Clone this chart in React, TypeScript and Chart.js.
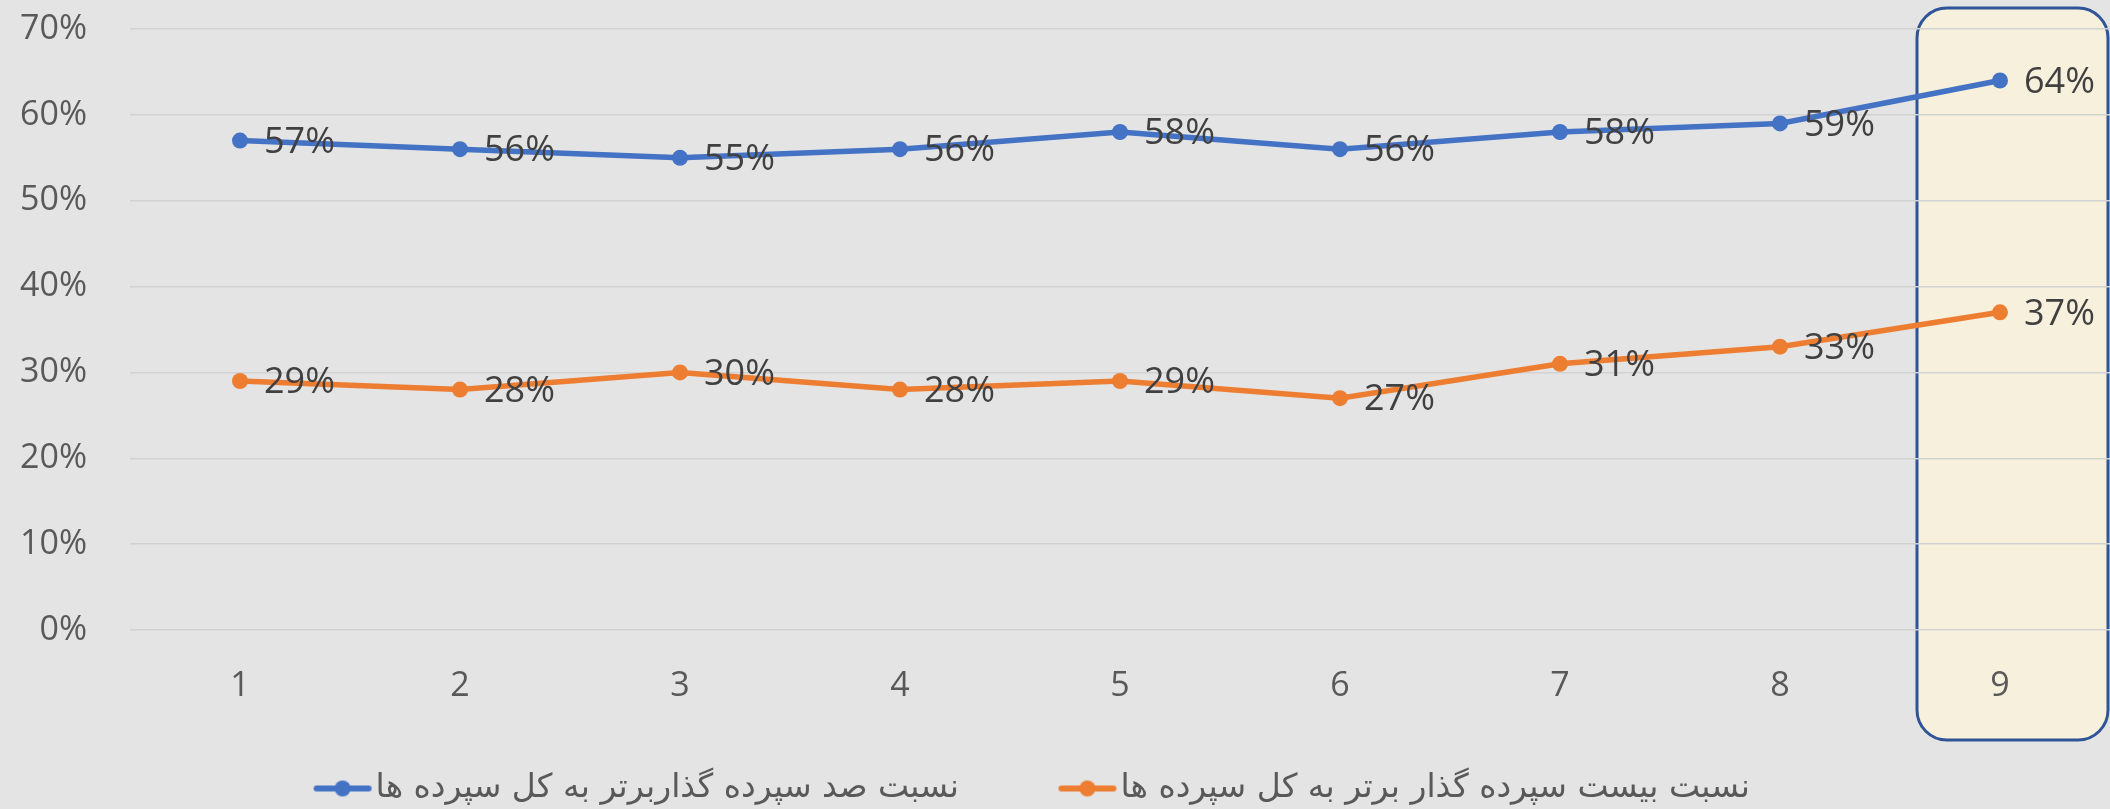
import React, { useEffect, useRef } from "react";
import { Chart, registerables } from "chart.js";

Chart.register(...registerables);

// ---- data ----
const categories: string[] = ["1", "2", "3", "4", "5", "6", "7", "8", "9"];
const top100Share: number[] = [57, 56, 55, 56, 58, 56, 58, 59, 64];
const top20Share: number[] = [29, 28, 30, 28, 29, 27, 31, 33, 37];
const seriesNames: string[] = [
  "نسبت صد سپرده گذاربرتر به کل سپرده ها",
  "نسبت بیست سپرده گذار برتر به کل سپرده ها",
];
const seriesColors: string[] = ["#4472C4", "#ED7D31"];
const yMin = 0;
const yMax = 70;
const yStep = 10;
const highlightIndex = 8;

const W = 2110;
const H = 809;
const LEGEND_FONT = 33;
const LEGEND_BOX = 80;

// legend marker: wide transparent image, line+dot drawn at its right end
function makeMarker(color: string): HTMLCanvasElement {
  const c = document.createElement("canvas");
  c.width = LEGEND_BOX + LEGEND_FONT - 6;
  c.height = 18;
  const g = c.getContext("2d")!;
  const x1 = c.width - 4;
  const x0 = x1 - 52;
  g.strokeStyle = color;
  g.lineWidth = 6;
  g.lineCap = "round";
  g.beginPath();
  g.moveTo(x0, 9);
  g.lineTo(x1, 9);
  g.stroke();
  g.fillStyle = color;
  g.beginPath();
  g.arc((x0 + x1) / 2, 9, 8, 0, Math.PI * 2);
  g.fill();
  return c;
}

function roundRect(ctx: CanvasRenderingContext2D, x: number, y: number, w: number, h: number, r: number) {
  ctx.beginPath();
  ctx.moveTo(x + r, y);
  ctx.lineTo(x + w - r, y);
  ctx.arcTo(x + w, y, x + w, y + r, r);
  ctx.lineTo(x + w, y + h - r);
  ctx.arcTo(x + w, y + h, x + w - r, y + h, r);
  ctx.lineTo(x + r, y + h);
  ctx.arcTo(x, y + h, x, y + h - r, r);
  ctx.lineTo(x, y + r);
  ctx.arcTo(x, y, x + r, y, r);
  ctx.closePath();
}

const layoutPlugin = {
  id: "layoutTweaks",
  afterLayout(chart: any) {
    if (chart.legend) {
      chart.legend.left -= 81;
    }
    const area = chart.chartArea;
    const xs = chart.scales.x;
    if (area && xs && area.right < chart.width) {
      area.right = chart.width;
      area.width = area.right - area.left;
      xs.right = chart.width;
      xs.width = xs.right - xs.left;
      xs.configure();
    }
  },
};

const backgroundPlugin = {
  id: "bgAndHighlight",
  beforeDraw(chart: any) {
    const ctx = chart.ctx as CanvasRenderingContext2D;
    ctx.save();
    ctx.fillStyle = "#E4E4E4";
    ctx.fillRect(0, 0, chart.width, chart.height);
    const xs = chart.scales.x;
    const cx = xs.getPixelForValue(highlightIndex);
    const left = cx - 83;
    const right = chart.width - 2;
    const top = 8;
    const bottom = 740;
    roundRect(ctx, left, top, right - left, bottom - top, 30);
    ctx.fillStyle = "#F7F0DC";
    ctx.fill();
    ctx.lineWidth = 3;
    ctx.strokeStyle = "#2F5597";
    ctx.stroke();
    ctx.restore();
  },
};

const dataLabelPlugin = {
  id: "dataLabels",
  afterDatasetsDraw(chart: any) {
    const ctx = chart.ctx as CanvasRenderingContext2D;
    ctx.save();
    ctx.font = "36px 'Open Sans'";
    ctx.fillStyle = "#404040";
    ctx.textAlign = "left";
    ctx.textBaseline = "middle";
    chart.data.datasets.forEach((ds: any, i: number) => {
      const meta = chart.getDatasetMeta(i);
      meta.data.forEach((pt: any, j: number) => {
        ctx.fillText(`${ds.data[j]}%`, pt.x + 24, pt.y + 2);
      });
    });
    ctx.restore();
  },
};

export default function App() {
  const canvasRef = useRef<HTMLCanvasElement | null>(null);

  useEffect(() => {
    document.body.style.margin = "0";
    document.body.style.overflow = "hidden";
    const canvas = canvasRef.current!;
    const markers = seriesColors.map((c) => makeMarker(c));

    const chart = new Chart(canvas, {
      type: "line",
      data: {
        labels: categories,
        datasets: seriesNames.map((name, i) => ({
          label: name,
          data: i === 0 ? top100Share : top20Share,
          borderColor: seriesColors[i],
          backgroundColor: seriesColors[i],
          borderWidth: 5.5,
          pointRadius: 8,
          pointBorderWidth: 0,
          pointBackgroundColor: seriesColors[i],
          tension: 0,
        })),
      },
      options: {
        responsive: false,
        animation: false,
        devicePixelRatio: 1,
        layout: { padding: { top: 29, right: 0, left: 0, bottom: -6 } },
        plugins: {
          tooltip: { enabled: false },
          legend: {
            position: "bottom",
            labels: {
              usePointStyle: true,
              pointStyleWidth: LEGEND_BOX,
              padding: 65,
              color: "#595959",
              font: { family: "'DejaVu Sans'", size: LEGEND_FONT },
              generateLabels: (ch: any) =>
                ch.data.datasets.map((ds: any, i: number) => ({
                  text: ds.label,
                  fillStyle: seriesColors[i],
                  strokeStyle: seriesColors[i],
                  lineWidth: 0,
                  pointStyle: markers[i],
                  hidden: false,
                  datasetIndex: i,
                  fontColor: "#595959",
                })),
            },
          },
        },
        scales: {
          x: {
            offset: true,
            grid: { display: false, drawTicks: false },
            border: { display: false },
            ticks: {
              color: "#595959",
              font: { family: "'Open Sans'", size: 34 },
              padding: 36,
              maxRotation: 0,
            },
            afterFit: (scale: any) => {
              scale.height = 77;
              scale.paddingLeft = 0;
              scale.paddingRight = 0;
            },
          },
          y: {
            min: yMin,
            max: yMax,
            grid: {
              color: "#D2D2D2",
              lineWidth: 1.5,
              drawTicks: true,
              tickLength: 43,
              tickColor: "rgba(0,0,0,0)",
            },
            border: { display: false },
            ticks: {
              stepSize: yStep,
              color: "#595959",
              font: { family: "'Open Sans'", size: 34 },
              padding: 0,
              callback: (v: any) => `${v}%`,
            },
            afterFit: (scale: any) => {
              scale.width = 130;
            },
          },
        },
      },
      plugins: [layoutPlugin, backgroundPlugin, dataLabelPlugin],
    });

    return () => chart.destroy();
  }, []);

  return (
    <div style={{ width: W, height: H }}>
      <canvas ref={canvasRef} width={W} height={H} />
    </div>
  );
}
